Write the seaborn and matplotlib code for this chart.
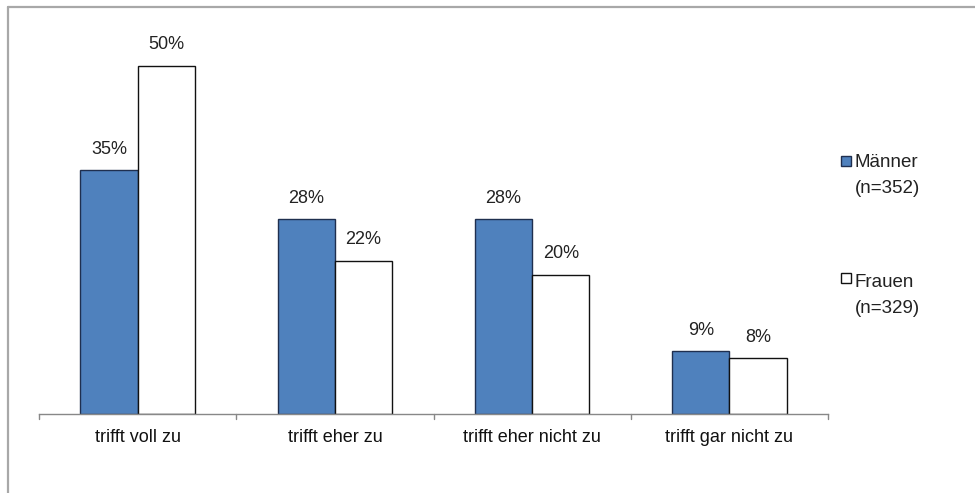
import matplotlib
matplotlib.use("Agg")
import matplotlib.pyplot as plt
import seaborn as sns
import pandas as pd
from matplotlib.patches import Rectangle
from matplotlib.lines import Line2D

categories = ["trifft voll zu", "trifft eher zu", "trifft eher nicht zu", "trifft gar nicht zu"]
maenner = [35, 28, 28, 9]
frauen = [50, 22, 20, 8]
series = ["Männer", "Frauen"]
series_n = ["(n=352)", "(n=329)"]

df = pd.DataFrame({
    "Kategorie": categories * 2,
    "Anteil": maenner + frauen,
    "Gruppe": [series[0]] * len(categories) + [series[1]] * len(categories),
})

sns.set_theme(style="white")
plt.rcParams["font.family"] = ["Liberation Sans", "DejaVu Sans"]

W, H = 975, 493
fig = plt.figure(figsize=(W / 100, H / 100), dpi=100)
fig.patch.set_facecolor("white")


def fx(px):
    return px / W


def fy(py):
    return 1 - py / H


# plot area in pixel coordinates
left, right, top, bottom = 39, 828, 31, 414
ax = fig.add_axes([fx(left), fy(bottom), (right - left) / W, (bottom - top) / H])

palette = {series[0]: "#4F81BD", series[1]: "#FFFFFF"}
edge = {series[0]: "#1F2F4F", series[1]: "#111111"}
sns.barplot(data=df, x="Kategorie", y="Anteil", hue="Gruppe", palette=palette,
            width=0.58, ax=ax, legend=False, saturation=1)

for container, name in zip(ax.containers, series):
    for bar in container:
        bar.set_edgecolor(edge[name])
        bar.set_linewidth(1.0)
    ax.bar_label(container, labels=[f"{v:.0f}%" for v in container.datavalues],
                 padding=9, fontsize=13, color="#222222")

ax.set_ylim(0, 55)
ax.set_xlim(-0.5, len(categories) - 0.5)
ax.set_xlabel("")
ax.set_ylabel("")
ax.set_yticks([])
for s in ["top", "right", "left"]:
    ax.spines[s].set_visible(False)
ax.spines["bottom"].set_color("#888888")
ax.spines["bottom"].set_linewidth(1.0)
ax.set_xticks(list(range(len(categories))))
ax.set_xticklabels(categories, fontsize=13, color="#111111")
ax.tick_params(axis="x", length=0, pad=11)
# tick marks at the category boundaries
for b in [i - 0.5 for i in range(len(categories) + 1)]:
    ax.plot([b, b], [0, -0.7], color="#888888", lw=1.0, clip_on=False)

# legend: swatch next to the first line of each two-line entry
legend_rows = [(156, 167), (273, 287)]
for name, n_txt, (sq_top, base) in zip(series, series_n, legend_rows):
    fig.add_artist(Rectangle((fx(841), fy(sq_top + 10)), 10 / W, 10 / H,
                             transform=fig.transFigure, facecolor=palette[name],
                             edgecolor=edge[name], lw=1.0))
    fig.text(fx(854), fy(base), name, fontsize=13.5, color="#222222", va="baseline", ha="left")
    fig.text(fx(855), fy(base + 26), n_txt, fontsize=13.5, color="#222222", va="baseline", ha="left")

# outer frame (top and left edges lie inside the image)
fig.add_artist(Line2D([fx(8), fx(8)], [fy(7), fy(H + 5)], transform=fig.transFigure,
                      color="#A8A8A8", lw=1.6))
fig.add_artist(Line2D([fx(8), fx(W + 5)], [fy(7), fy(7)], transform=fig.transFigure,
                      color="#A8A8A8", lw=1.6))

fig.savefig("out.png", dpi=100, facecolor="white")
